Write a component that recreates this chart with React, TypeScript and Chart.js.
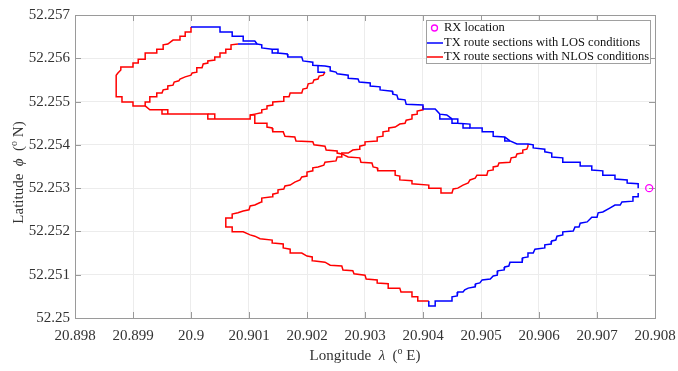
import React, { useEffect, useRef } from 'react';
import Chart from 'chart.js/auto';

// Axis ticks
const xTickValues = [20.898, 20.899, 20.9, 20.901, 20.902, 20.903, 20.904, 20.905, 20.906, 20.907, 20.908];
const xTickLabels = ['20.898', '20.899', '20.9', '20.901', '20.902', '20.903', '20.904', '20.905', '20.906', '20.907', '20.908'];
const yTickValues = [52.25, 52.251, 52.252, 52.253, 52.254, 52.255, 52.256, 52.257];
const yTickLabels = ['52.25', '52.251', '52.252', '52.253', '52.254', '52.255', '52.256', '52.257'];

// Receiver position [lon, lat]
const rxLocation: [number, number][] = [[20.9079, 52.253]];

// LOS route sections [lon, lat]
const losNorthStreet: [number, number][] = [
  [20.9, 52.25672], [20.9005, 52.25672], [20.9005, 52.25661], [20.90071, 52.25661], [20.90071, 52.25651],
  [20.9009, 52.25651], [20.9009, 52.2564], [20.9011, 52.2564], [20.90114, 52.25633], [20.90122, 52.25631],
  [20.90122, 52.25624], [20.9014, 52.25621], [20.9015, 52.25621], [20.9015, 52.25612], [20.90166, 52.2561],
  [20.90167, 52.25603], [20.90191, 52.25603], [20.90193, 52.25594], [20.9021, 52.25591], [20.9021, 52.25584],
  [20.90231, 52.25582], [20.9024, 52.2558], [20.9024, 52.25571], [20.9025, 52.25568], [20.90252, 52.25564],
  [20.90271, 52.25561], [20.90271, 52.25554], [20.90288, 52.25552], [20.9029, 52.25545], [20.90309, 52.25543],
  [20.90309, 52.25536], [20.90326, 52.25534], [20.90326, 52.25527], [20.90347, 52.25524], [20.90348, 52.25517],
  [20.90355, 52.25515], [20.90357, 52.25506], [20.90369, 52.25504], [20.90371, 52.25494], [20.904, 52.25492],
  [20.904, 52.25483], [20.90421, 52.25483], [20.90429, 52.25471], [20.90441, 52.25469], [20.9045, 52.2546],
  [20.9046, 52.2546], [20.9046, 52.2545], [20.90481, 52.25448], [20.90481, 52.25439], [20.90502, 52.25439],
  [20.90502, 52.2543], [20.90521, 52.2543], [20.90521, 52.2542], [20.90541, 52.25418], [20.9055, 52.25409],
  [20.90562, 52.25402], [20.90581, 52.25402], [20.9059, 52.254], [20.9059, 52.25393], [20.9061, 52.2539],
  [20.9061, 52.25384], [20.90622, 52.25381], [20.90622, 52.25372], [20.90641, 52.2537], [20.90641, 52.2536],
  [20.90671, 52.2536], [20.90671, 52.25351], [20.90691, 52.25351], [20.90691, 52.25342], [20.9071, 52.2534],
  [20.9071, 52.2533], [20.90731, 52.2533], [20.90731, 52.25321], [20.90752, 52.25319], [20.90752, 52.25312],
  [20.90771, 52.2531], [20.90771, 52.253],
];

// Short doubled passes along the northern street
const losSidings: [number, number][][] = [
  [[20.90081, 52.25633], [20.90114, 52.25633]],
  [[20.9014, 52.25621], [20.9014, 52.25612], [20.9015, 52.25612]],
  [[20.90219, 52.25582], [20.90219, 52.25568], [20.90231, 52.25568]],
  [[20.90429, 52.25471], [20.90429, 52.2546], [20.9045, 52.2546]],
  [[20.9045, 52.2546], [20.9045, 52.2545], [20.9046, 52.2545]],
  [[20.90469, 52.25448], [20.90469, 52.25439], [20.90481, 52.25439]],
  [[20.90541, 52.25418], [20.90541, 52.25409], [20.9055, 52.25409]],
];

const losEastStreet: [number, number][] = [
  [20.90771, 52.25289], [20.90771, 52.2528], [20.90762, 52.2528], [20.90762, 52.2527], [20.90743, 52.25268],
  [20.9074, 52.25261], [20.90731, 52.25261], [20.90722, 52.25254], [20.9071, 52.25245], [20.90702, 52.25243],
  [20.907, 52.25233], [20.90691, 52.25233], [20.90683, 52.25222], [20.90671, 52.25219], [20.90669, 52.2521],
  [20.90662, 52.2521], [20.90659, 52.25201], [20.90641, 52.25199], [20.90641, 52.25192], [20.90631, 52.25189],
  [20.90629, 52.2518], [20.90622, 52.25178], [20.90621, 52.25171], [20.9061, 52.25169], [20.9061, 52.25162],
  [20.90593, 52.25159], [20.9059, 52.2515], [20.90581, 52.2515], [20.90581, 52.25141], [20.90572, 52.25139],
  [20.90571, 52.25129], [20.9055, 52.25129], [20.90548, 52.2512], [20.90541, 52.25118], [20.9054, 52.25111],
  [20.90529, 52.25109], [20.90528, 52.25099], [20.90521, 52.25097], [20.90516, 52.2509], [20.90502, 52.25088],
  [20.90498, 52.25081], [20.90491, 52.25079], [20.9049, 52.25072], [20.90478, 52.25069], [20.90472, 52.25065],
  [20.90469, 52.2506], [20.9046, 52.2506], [20.90459, 52.25051], [20.9045, 52.25049], [20.9045, 52.25039],
  [20.90421, 52.25039], [20.90421, 52.25028], [20.9041, 52.25028], [20.9041, 52.25039],
];

// NLOS route sections [lon, lat]
const nlosWestLoop: [number, number][] = [
  [20.89921, 52.2549], [20.899, 52.2549], [20.899, 52.25499], [20.89881, 52.25499], [20.89881, 52.25511],
  [20.89871, 52.25511], [20.89871, 52.25561], [20.89874, 52.25566], [20.89879, 52.25573], [20.89879, 52.2558],
  [20.899, 52.2558], [20.899, 52.25589], [20.89909, 52.25589], [20.89909, 52.25598], [20.89921, 52.25598],
  [20.89921, 52.25612], [20.89941, 52.25612], [20.89941, 52.25621], [20.89952, 52.25621], [20.89952, 52.25631],
  [20.8996, 52.25633], [20.89969, 52.25642], [20.89981, 52.25642], [20.89981, 52.25651], [20.8999, 52.25651],
  [20.8999, 52.25661], [20.9, 52.25661], [20.9, 52.25672],
];

const nlosInnerStreet: [number, number][] = [
  [20.89921, 52.2549], [20.89921, 52.25499], [20.89929, 52.25499], [20.89929, 52.25511], [20.89941, 52.25511],
  [20.89941, 52.2552], [20.8995, 52.2552], [20.89952, 52.25527], [20.8996, 52.25529], [20.8996, 52.25536],
  [20.89969, 52.25538], [20.89971, 52.25545], [20.89979, 52.25548], [20.89981, 52.25552], [20.8999, 52.25557],
  [20.9, 52.25561], [20.90002, 52.25566], [20.9001, 52.25568], [20.9001, 52.25578], [20.90019, 52.25578],
  [20.90021, 52.25587], [20.90029, 52.25589], [20.90029, 52.25594], [20.90041, 52.25596], [20.90041, 52.25603],
  [20.9005, 52.25603], [20.9005, 52.25612], [20.90059, 52.25612], [20.9006, 52.25621], [20.90069, 52.25621],
  [20.90069, 52.25631], [20.90081, 52.25633],
];

const nlosMiddleStreet: [number, number][] = [
  [20.89921, 52.2549], [20.89929, 52.25481], [20.8995, 52.25481], [20.8995, 52.25471], [20.90029, 52.25471],
  [20.90029, 52.2546], [20.90102, 52.2546], [20.90102, 52.25469], [20.9011, 52.25469], [20.9011, 52.2545],
  [20.90131, 52.2545], [20.90131, 52.25441], [20.9014, 52.25439], [20.90141, 52.2543], [20.90159, 52.2543],
  [20.90162, 52.2542], [20.90179, 52.25418], [20.90181, 52.25409], [20.9021, 52.25407], [20.90212, 52.254],
  [20.90231, 52.25397], [20.90233, 52.25388], [20.90252, 52.25386], [20.90252, 52.25381], [20.9026, 52.25379],
  [20.90271, 52.25372], [20.90291, 52.2537], [20.90293, 52.2536], [20.90312, 52.25358], [20.90314, 52.25349],
  [20.90321, 52.25347], [20.90322, 52.2534], [20.90352, 52.2534], [20.90352, 52.2533], [20.9036, 52.25328],
  [20.9036, 52.25319], [20.90381, 52.25317], [20.90381, 52.2531], [20.9041, 52.25307], [20.9041, 52.253],
  [20.90431, 52.253], [20.90431, 52.25289], [20.9045, 52.25289], [20.90452, 52.25298], [20.9046, 52.253],
  [20.90469, 52.25307], [20.90478, 52.25312], [20.90481, 52.25319], [20.9049, 52.25323], [20.90493, 52.2533],
  [20.9051, 52.2533], [20.90512, 52.2534], [20.90521, 52.25342], [20.90521, 52.25349], [20.90529, 52.25351],
  [20.90531, 52.25358], [20.9055, 52.2536], [20.90552, 52.2537], [20.9056, 52.25372], [20.90562, 52.25379],
  [20.90571, 52.25381], [20.90572, 52.25388], [20.90579, 52.2539], [20.90581, 52.25397], [20.90581, 52.25402],
];

const nlosSidings: [number, number][][] = [
  [[20.8995, 52.25481], [20.8996, 52.25481], [20.8996, 52.25471]],
  [[20.90029, 52.25471], [20.90041, 52.25471], [20.90041, 52.2546]],
];

const nlosConnector: [number, number][] = [
  [20.90102, 52.25469], [20.9011, 52.25471], [20.90121, 52.25474], [20.90122, 52.25481], [20.90131, 52.25483],
  [20.90131, 52.2549], [20.90141, 52.25492], [20.90141, 52.25499], [20.90159, 52.25501], [20.9016, 52.25511],
  [20.90169, 52.25511], [20.90171, 52.2552], [20.90191, 52.2552], [20.90193, 52.25529], [20.902, 52.25531],
  [20.90202, 52.25541], [20.9021, 52.25543], [20.90212, 52.2555], [20.90219, 52.25552], [20.90221, 52.25559],
  [20.90228, 52.25561], [20.90231, 52.25568],
];

const nlosSouthStreet: [number, number][] = [
  [20.9041, 52.25039], [20.90391, 52.25039], [20.90391, 52.25049], [20.90381, 52.25049], [20.90381, 52.2506],
  [20.90362, 52.2506], [20.9036, 52.25069], [20.90341, 52.25069], [20.9034, 52.25079], [20.90321, 52.25081],
  [20.90321, 52.25088], [20.90302, 52.2509], [20.903, 52.25099], [20.90281, 52.25102], [20.90279, 52.25109],
  [20.90262, 52.25111], [20.9026, 52.2512], [20.9024, 52.25122], [20.90231, 52.25129], [20.9021, 52.25132],
  [20.90209, 52.25141], [20.902, 52.25143], [20.90191, 52.2515], [20.90172, 52.2515], [20.90171, 52.25159],
  [20.90159, 52.25162], [20.90159, 52.25171], [20.90141, 52.25173], [20.9014, 52.2518], [20.90119, 52.25183],
  [20.9011, 52.25189], [20.90102, 52.25192], [20.9009, 52.25199], [20.90071, 52.25199], [20.90071, 52.2521],
  [20.9006, 52.2521], [20.9006, 52.25231], [20.90071, 52.25231], [20.90071, 52.2524], [20.90081, 52.25243],
  [20.9009, 52.25247], [20.901, 52.2525], [20.90102, 52.25259], [20.9011, 52.25261], [20.90121, 52.25268],
  [20.90122, 52.25277], [20.9014, 52.2528], [20.90141, 52.25286], [20.9015, 52.25289], [20.9015, 52.25296],
  [20.9016, 52.25298], [20.90162, 52.25305], [20.90171, 52.25307], [20.90179, 52.25314], [20.90188, 52.25319],
  [20.90191, 52.25326], [20.902, 52.25328], [20.902, 52.25337], [20.9021, 52.2534], [20.9021, 52.25347],
  [20.90219, 52.25349], [20.90229, 52.25353], [20.90231, 52.2536], [20.9025, 52.25363], [20.90252, 52.25372],
  [20.9026, 52.25372], [20.9026, 52.25381], [20.90271, 52.25381], [20.90279, 52.25388], [20.9029, 52.2539],
  [20.90291, 52.25397], [20.903, 52.254], [20.903, 52.25407], [20.90321, 52.25409], [20.90321, 52.25418],
  [20.90331, 52.2542], [20.90331, 52.2543], [20.9034, 52.25432], [20.90341, 52.25439], [20.90352, 52.25441],
  [20.9036, 52.25448], [20.90369, 52.2545], [20.90371, 52.25457], [20.90381, 52.2546], [20.90381, 52.25469],
  [20.9039, 52.25471], [20.9039, 52.25478], [20.904, 52.25481], [20.904, 52.2549],
];

const LOS_COLOR = '#0000ff';
const NLOS_COLOR = '#ff0000';
const RX_COLOR = '#ff00ff';
const AXIS_COLOR = '#9a9a9a';
const TEXT_COLOR = '#333333';
const FONT_FAMILY = '"Liberation Serif", "Times New Roman", serif';

type Part = { text: string; size: number; italic?: boolean; dy?: number };

function drawRich(ctx: CanvasRenderingContext2D, parts: Part[], cx: number, cy: number, angle: number) {
  ctx.save();
  ctx.translate(cx, cy);
  ctx.rotate(angle);
  ctx.fillStyle = TEXT_COLOR;
  ctx.textBaseline = 'middle';
  ctx.textAlign = 'left';
  const fonts = parts.map((p) => `${p.italic ? 'italic ' : ''}${p.size}px ${FONT_FAMILY}`);
  const widths = parts.map((p, i) => {
    ctx.font = fonts[i];
    return ctx.measureText(p.text).width;
  });
  const total = widths.reduce((a, b) => a + b, 0);
  let x = -total / 2;
  parts.forEach((p, i) => {
    ctx.font = fonts[i];
    ctx.fillText(p.text, x, p.dy || 0);
    x += widths[i];
  });
  ctx.restore();
}

const frameAndLabels = {
  id: 'frameAndLabels',
  beforeDatasetsDraw(chart: any) {
    const { ctx, chartArea } = chart;
    const { left, right, top, bottom } = chartArea;
    const xs = chart.scales.x;
    const ys = chart.scales.y;
    const tick = 6;
    ctx.save();
    ctx.strokeStyle = AXIS_COLOR;
    ctx.lineWidth = 1;
    ctx.beginPath();
    ctx.moveTo(left + 0.5, top + 0.5);
    ctx.lineTo(right + 0.5, top + 0.5);
    ctx.lineTo(right + 0.5, bottom + 0.5);
    ctx.lineTo(left + 0.5, bottom + 0.5);
    ctx.closePath();
    xTickValues.forEach((v) => {
      const px = Math.round(xs.getPixelForValue(v)) + 0.5;
      ctx.moveTo(px, bottom);
      ctx.lineTo(px, bottom - tick);
      ctx.moveTo(px, top);
      ctx.lineTo(px, top + tick);
    });
    yTickValues.forEach((v) => {
      const py = Math.round(ys.getPixelForValue(v)) + 0.5;
      ctx.moveTo(left, py);
      ctx.lineTo(left + tick, py);
      ctx.moveTo(right, py);
      ctx.lineTo(right - tick, py);
    });
    ctx.stroke();
    ctx.restore();
  },
  afterDraw(chart: any) {
    const { ctx, chartArea } = chart;
    const { left, right, top, bottom } = chartArea;

    drawRich(ctx, [
      { text: 'Longitude  ', size: 15 },
      { text: 'λ', size: 15, italic: true },
      { text: '  (', size: 15 },
      { text: 'o', size: 10, dy: -5 },
      { text: ' E)', size: 15 },
    ], (left + right) / 2, 356, 0);

    drawRich(ctx, [
      { text: 'Latitude  ', size: 15 },
      { text: 'ϕ', size: 15, italic: true },
      { text: '  (', size: 15 },
      { text: 'o', size: 10, dy: -5 },
      { text: ' N)', size: 15 },
    ], 19, (top + bottom) / 2 + 6, -Math.PI / 2);

    // Legend box
    const bx = 426.5, by = 20.5, bw = 224, bh = 43;
    ctx.save();
    ctx.fillStyle = '#ffffff';
    ctx.fillRect(bx, by, bw, bh);
    ctx.strokeStyle = '#a0a0a0';
    ctx.lineWidth = 1;
    ctx.strokeRect(bx, by, bw, bh);
    const rows = [28, 43, 57];
    ctx.strokeStyle = RX_COLOR;
    ctx.lineWidth = 1.3;
    ctx.beginPath();
    ctx.arc(434.5, rows[0], 3, 0, Math.PI * 2);
    ctx.stroke();
    ctx.lineWidth = 1.5;
    ctx.strokeStyle = LOS_COLOR;
    ctx.beginPath();
    ctx.moveTo(427, rows[1]);
    ctx.lineTo(443, rows[1]);
    ctx.stroke();
    ctx.strokeStyle = NLOS_COLOR;
    ctx.beginPath();
    ctx.moveTo(427, rows[2]);
    ctx.lineTo(443, rows[2]);
    ctx.stroke();
    ctx.fillStyle = '#111111';
    ctx.font = `12.5px ${FONT_FAMILY}`;
    ctx.textBaseline = 'middle';
    ctx.textAlign = 'left';
    ctx.fillText('RX location', 444, rows[0]);
    ctx.fillText('TX route sections with LOS conditions', 444, rows[1]);
    ctx.fillText('TX route sections with NLOS conditions', 444, rows[2]);
    ctx.restore();
  },
};

function lineSet(points: [number, number][], color: string) {
  return {
    data: points.map(([x, y]) => ({ x, y })),
    showLine: true,
    borderColor: color,
    backgroundColor: color,
    borderWidth: 1.5,
    pointRadius: 0,
    pointHoverRadius: 0,
    tension: 0,
    fill: false,
  };
}

export default function App() {
  const canvasRef = useRef<HTMLCanvasElement | null>(null);

  useEffect(() => {
    document.body.style.margin = '0';
    const canvas = canvasRef.current;
    if (!canvas) return;

    const datasets: any[] = [
      lineSet(losNorthStreet, LOS_COLOR),
      ...losSidings.map((s) => lineSet(s, LOS_COLOR)),
      lineSet(losEastStreet, LOS_COLOR),
      lineSet(nlosWestLoop, NLOS_COLOR),
      lineSet(nlosInnerStreet, NLOS_COLOR),
      lineSet(nlosMiddleStreet, NLOS_COLOR),
      ...nlosSidings.map((s) => lineSet(s, NLOS_COLOR)),
      lineSet(nlosConnector, NLOS_COLOR),
      lineSet(nlosSouthStreet, NLOS_COLOR),
      {
        data: rxLocation.map(([x, y]) => ({ x, y })),
        showLine: false,
        pointRadius: 3.5,
        pointBorderWidth: 1.3,
        pointBorderColor: RX_COLOR,
        pointBackgroundColor: 'rgba(0,0,0,0)',
        borderColor: RX_COLOR,
        backgroundColor: 'rgba(0,0,0,0)',
        clip: false,
      },
    ];

    const chart = new Chart(canvas, {
      type: 'scatter',
      data: { datasets },
      options: {
        responsive: false,
        animation: false,
        devicePixelRatio: 1,
        layout: { padding: { top: 15, right: 23, left: 0, bottom: 0 } },
        plugins: { legend: { display: false }, tooltip: { enabled: false } },
        events: [],
        scales: {
          x: {
            type: 'linear',
            min: 20.898,
            max: 20.908,
            afterBuildTicks: (scale: any) => {
              scale.ticks = xTickValues.map((value) => ({ value }));
            },
            afterFit: (scale: any) => {
              scale.height = 53;
              scale.paddingLeft = 0;
              scale.paddingRight = 0;
            },
            ticks: {
              autoSkip: false,
              maxRotation: 0,
              padding: 9,
              color: TEXT_COLOR,
              font: { family: FONT_FAMILY, size: 15 },
              callback: (_v: any, i: number) => xTickLabels[i],
            },
            grid: { color: '#ececec', lineWidth: 1, drawTicks: false },
            border: { color: AXIS_COLOR, width: 1 },
          },
          y: {
            type: 'linear',
            min: 52.25,
            max: 52.257,
            afterBuildTicks: (scale: any) => {
              scale.ticks = yTickValues.map((value) => ({ value }));
            },
            afterFit: (scale: any) => {
              scale.width = 75;
              scale.paddingTop = 0;
              scale.paddingBottom = 0;
            },
            ticks: {
              autoSkip: false,
              padding: 5,
              color: TEXT_COLOR,
              font: { family: FONT_FAMILY, size: 15 },
              callback: (_v: any, i: number) => yTickLabels[i],
            },
            grid: { color: '#ececec', lineWidth: 1, drawTicks: false },
            border: { color: AXIS_COLOR, width: 1 },
          },
        },
      } as any,
      plugins: [frameAndLabels],
    });

    return () => chart.destroy();
  }, []);

  return (
    <div style={{ position: 'absolute', left: 0, top: 0, width: 678, height: 371, background: '#ffffff' }}>
      <canvas ref={canvasRef} width={678} height={371} style={{ display: 'block', width: 678, height: 371 }} />
    </div>
  );
}
